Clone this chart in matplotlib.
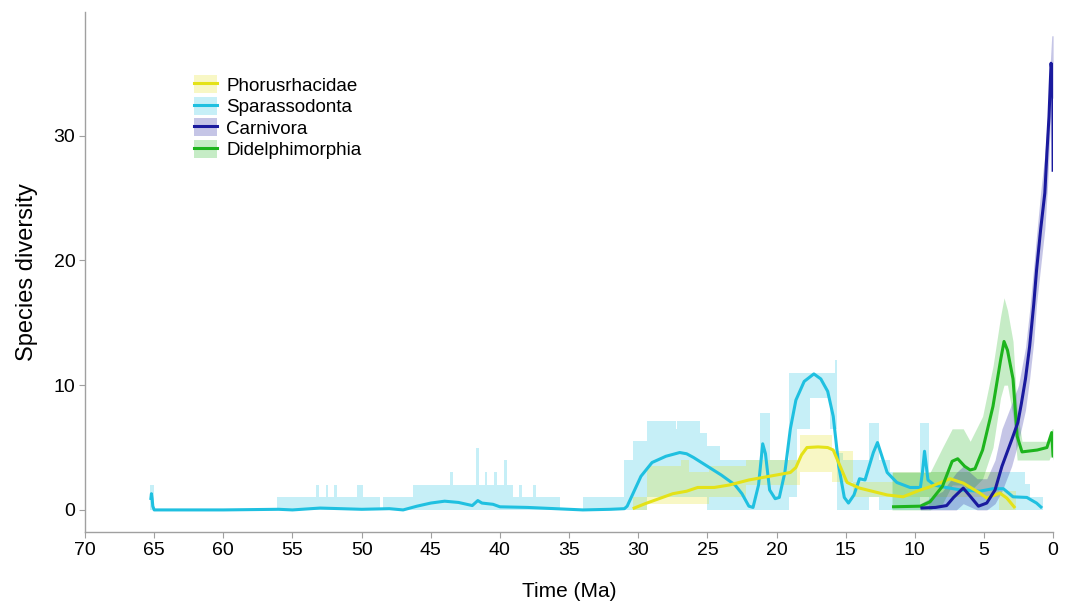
import matplotlib
matplotlib.use("Agg")
import matplotlib.pyplot as plt
from matplotlib.patches import Patch
from matplotlib.lines import Line2D

plt.rcParams['font.family'] = ['Liberation Sans', 'DejaVu Sans']

# --- mean diversity curves (time in Ma, diversity) ---
spar_t = [65.25, 65.2, 65.15, 65.1, 65.0, 60, 56, 55, 53, 50, 48, 47, 46, 45, 44, 43, 42, 41.6,
          41.3, 40.5, 40, 38, 36, 35, 34, 32, 31, 30.8, 30.3, 29.8, 29, 28, 27, 26.5, 26, 25, 24,
          23, 22.5, 22, 21.7, 21.3, 21.0, 20.8, 20.5, 20.1, 19.8, 19.4, 19.0, 18.6, 18.0, 17.3,
          16.8, 16.3, 15.9, 15.5, 15.1, 14.8, 14.4, 14.0, 13.6, 13.0, 12.7, 12.0, 11.3, 10.35,
          9.6, 9.45, 9.3, 9.05, 8.6, 8.0, 6.7, 5.3, 4.35, 3.6, 2.9, 1.9, 1.2, 0.8]
spar_v = [0.8, 1.3, 0.9, 0.3, 0.0, 0.0, 0.05, 0.0, 0.15, 0.05, 0.1, 0.0, 0.3, 0.55, 0.7, 0.6,
          0.35, 0.75, 0.55, 0.45, 0.25, 0.2, 0.1, 0.05, 0.0, 0.05, 0.1, 0.3, 1.5, 2.7, 3.8, 4.3,
          4.6, 4.5, 4.2, 3.5, 2.8, 2.0, 1.3, 0.3, 0.2, 2.0, 5.3, 4.5, 1.6, 0.9, 1.0, 3.0, 6.5,
          8.8, 10.3, 10.9, 10.5, 9.5, 7.5, 3.5, 1.0, 0.55, 1.2, 2.5, 2.4, 4.6, 5.4, 3.0, 2.2,
          1.8, 1.8, 3.0, 4.7, 2.4, 2.0, 1.85, 1.6, 1.5, 1.7, 1.7, 1.05, 1.0, 0.55, 0.15]

phor_t = [30.4, 29.5, 28.5, 27.5, 26.5, 25.7, 24.5, 23.4, 22, 21, 20, 19.0, 18.6, 18.2, 17.8, 17,
          16.3, 15.9, 15.4, 14.9, 14.0, 12.0, 10.85, 9.6, 8.9, 7.45, 6.5, 5.3, 4.8, 3.85, 3.35,
          2.75]
phor_v = [0.1, 0.5, 0.9, 1.3, 1.5, 1.8, 1.8, 2.0, 2.4, 2.6, 2.8, 3.0, 3.4, 4.4, 5.0, 5.05, 5.0,
          4.8, 3.5, 2.2, 1.75, 1.2, 1.05, 1.6, 1.85, 2.5, 2.15, 1.35, 0.95, 1.35, 0.95, 0.15]

didel_t = [11.65, 9.6, 8.9, 8.0, 7.3, 6.9, 6.4, 6.0, 5.65, 5.1, 4.35, 3.8, 3.55, 3.3, 2.9, 2.6,
           2.25, 1.15, 0.45, 0.1, 0.0]
didel_v = [0.25, 0.3, 0.65, 1.9, 3.9, 4.1, 3.5, 3.2, 3.3, 4.8, 8.3, 12.0, 13.5, 12.8, 10.5, 5.9,
           4.65, 4.8, 5.0, 6.2, 4.2]

carn_t = [9.6, 8.5, 7.7, 7.2, 6.5, 6.0, 5.4, 4.8, 4.2, 3.7, 3.0, 2.55, 2.3, 2.0, 1.7, 1.4, 1.2,
          0.9, 0.6, 0.45, 0.3, 0.15, 0.07, 0.02, 0.0]
carn_v = [0.15, 0.2, 0.35, 1.0, 1.75, 1.1, 0.3, 0.55, 1.6, 3.5, 5.6, 7.0, 8.5, 10.5, 13.1, 16.5,
          19.2, 22.5, 25.4, 28.6, 31.5, 35.8, 35.0, 33.0, 27.1]

# --- uncertainty bands ---
# Sparassodonta / Phorusrhacidae: stepwise (start of each step in Ma, lower, upper)
spar_bt = [65.3, 65.0, 56.1, 53.3, 53.1, 52.6, 52.4, 52.0, 51.8, 50.3, 49.9, 48.7, 48.45, 46.3,
           43.6, 43.4, 41.7, 41.5, 41.1, 40.9, 40.4, 40.2, 39.7, 39.5, 39.05, 38.6, 38.4, 37.6,
           37.4, 35.65, 34.0, 31.0, 30.4, 29.4, 27.3, 27.2, 25.5, 25.0, 24.1, 21.2, 20.5, 19.1,
           18.5, 17.6, 16.1, 15.8, 15.6, 15.2, 14.2, 13.3, 12.6, 11.8, 9.6, 9.0, 8.3, 2.0, 1.7,
           0.7]
spar_lo = [0, 0, 0, 0, 0, 0, 0, 0, 0, 0, 0, 0, 0, 0, 0, 0, 0, 0, 0, 0, 0, 0, 0, 0, 0, 0, 0, 0,
           0, 0, 0, 0, 0, 1, 1, 1, 1, 0, 0, 0, 0, 1, 6.5, 9, 6.5, 6.5, 0, 0, 0, 1, 0, 0, 1, 0, 0,
           0, 0, 0]
spar_hi = [2, 0, 1, 2, 1, 2, 1, 2, 1, 2, 1, 0, 1, 2, 3, 2, 5, 2, 3, 2, 3, 2, 4, 2, 1, 2, 1, 2, 1,
           0, 1, 4, 5.5, 7.1, 6.5, 7.1, 6.2, 5.1, 4.0, 7.8, 4.0, 11, 11, 11, 11, 12, 4.6, 4.0,
           4.0, 7.0, 4.0, 3.0, 7.0, 3.0, 3.0, 2.1, 1.0, 0]

phor_bt = [30.4, 29.4, 26.9, 26.3, 24.9, 22.2, 18.3, 16.0, 14.5, 11.6, 3.9, 2.7]
phor_lo = [0, 0.5, 0.5, 0.5, 1.0, 2.0, 3.0, 2.2, 1.0, 1.0, 0, 0]
phor_hi = [1, 3.5, 4.0, 3.0, 3.5, 4.0, 6.0, 4.7, 2.2, 3.0, 1.5, 0]

# Didelphimorphia / Carnivora: band edges at points
didel_bt = [11.65, 9.6, 8.9, 8.0, 7.3, 6.5, 6.0, 5.1, 4.35, 3.8, 3.55, 3.3, 2.9, 2.6, 2.25, 1.0,
            0.3, 0.1, 0.0]
didel_lo = [0, 0, 0, 0.5, 2, 2, 1.5, 2.5, 5, 9, 10, 10, 7.5, 4, 4, 4, 4, 4.5, 4]
didel_hi = [3, 3, 3, 5, 6.5, 6.5, 5.5, 7.5, 11.5, 15.5, 17, 16, 13.5, 8, 5.5, 5.5, 5.5, 6.5, 6.5]

carn_bt = [9.6, 8.0, 7.0, 6.5, 5.5, 4.8, 4.2, 3.7, 3.0, 2.5, 2.0, 1.7, 1.4, 1.2, 0.9, 0.6, 0.4,
           0.2, 0.1, 0.0]
carn_lo = [0, 0, 0, 0.5, 0, 0, 0.5, 1.5, 3.5, 5.5, 8, 10.5, 13.5, 16.5, 19.5, 22.5, 26, 31, 33,
           33]
carn_hi = [0.5, 1.5, 3, 3.5, 2.5, 2.5, 4, 6.5, 8.5, 10, 13, 16, 19.5, 22, 25.5, 28.5, 31.5, 36,
           38, 38]

groups = ['Phorusrhacidae', 'Sparassodonta', 'Carnivora', 'Didelphimorphia']
line_colors = {'Phorusrhacidae': '#e4e218', 'Sparassodonta': '#1fc0e0',
               'Carnivora': '#1a1a9e', 'Didelphimorphia': '#1db41d'}
series = {
    'Phorusrhacidae': (phor_t, phor_v, phor_bt, phor_lo, phor_hi, 'post'),
    'Sparassodonta': (spar_t, spar_v, spar_bt, spar_lo, spar_hi, 'post'),
    'Carnivora': (carn_t, carn_v, carn_bt, carn_lo, carn_hi, None),
    'Didelphimorphia': (didel_t, didel_v, didel_bt, didel_lo, didel_hi, None),
}
order = ['Sparassodonta', 'Phorusrhacidae', 'Didelphimorphia', 'Carnivora']

fig = plt.figure(figsize=(10.67, 6.06), dpi=100)
ax = fig.add_axes([0.0797, 0.1221, 0.9073, 0.858])

# bands first
for g in order:
    t, v, bt, lo, hi, st = series[g]
    ax.fill_between(bt, lo, hi, step=st, color=line_colors[g], alpha=0.25, lw=0)

# then the mean curves
for g in order:
    t, v, bt, lo, hi, st = series[g]
    ax.plot(t, v, color=line_colors[g], lw=2.2, solid_capstyle='butt')

ax.set_xlim(70, 0)
ax.set_ylim(-1.77, 39.9)
ax.set_xticks(range(70, -1, -5))
ax.set_yticks([0, 10, 20, 30])
ax.spines['top'].set_visible(False)
ax.spines['right'].set_visible(False)
for s in ['left', 'bottom']:
    ax.spines[s].set_color('#a0a0a0')
    ax.spines[s].set_linewidth(1.0)
ax.tick_params(colors='#a0a0a0', labelcolor='black', labelsize=14, length=4, width=0.8, pad=3)
ax.set_xlabel('Time (Ma)', fontsize=15, labelpad=17)
ax.set_ylabel('Species diversity', fontsize=17, labelpad=11)

handles = [(Patch(facecolor=line_colors[g], alpha=0.25, lw=0),
            Line2D([], [], color=line_colors[g], lw=2.2)) for g in groups]
ax.legend(handles, groups, loc='upper left', bbox_to_anchor=(0.105, 0.893), frameon=False,
          fontsize=13.5, handlelength=1.2, handleheight=1.1, handletextpad=0.5,
          labelspacing=0.12, borderaxespad=0)

fig.savefig('out.png', dpi=100)
